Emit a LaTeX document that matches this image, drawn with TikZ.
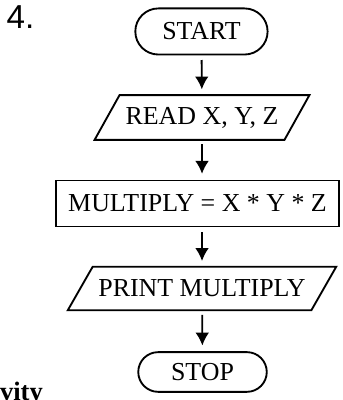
\documentclass[tikz,border=0pt]{standalone}
\usepackage{fontspec}
\setmainfont{Liberation Serif}
\newfontfamily\numfont{Liberation Sans}
\usetikzlibrary{arrows.meta,shapes.misc}
\begin{document}
\begin{tikzpicture}[>={Latex[length=3.4mm,width=3.6mm]},
    every node/.style={font=\fontsize{19.5}{21}\selectfont},
    term/.style={draw, line width=1.4pt, rounded rectangle, minimum height=1.22cm, inner sep=0pt},
    io/.style={rectangle, minimum height=1.17cm, inner sep=0pt},
    proc/.style={draw, line width=1.4pt, rectangle, minimum height=1.22cm, inner sep=0pt},
    flow/.style={->, line width=1.4pt, shorten <=0.12cm, shorten >=0.15cm}]
    \useasboundingbox (0,0) rectangle (9.075,10.583);
    % number and cut heading
    \node[anchor=base west, inner sep=0pt, font=\fontsize{25}{27}\selectfont\numfont] (num) at (0.17,9.84) {4.};
    \node[anchor=base east, inner sep=0pt, font=\fontsize{20}{22}\selectfont\bfseries] (act) at (1.14,0.0) {vity};
    % boxes
    \node[term, minimum width=3.5cm] (start) at (5.33,9.75) {START};
    \node[io, minimum width=5.01cm] (read) at (5.345,7.475) {READ X, Y, Z};
    \node[proc, minimum width=7.5cm] (mult) at (5.226,5.199) {MULTIPLY = X * Y * Z};
    \node[io, minimum width=6.43cm, minimum height=1.14cm] (print) at (5.345,2.95) {PRINT MULTIPLY};
    \node[term, minimum width=3.4cm, minimum height=1.05cm] (stop) at (5.358,0.741) {STOP};
    % slanted sides of the input/output boxes
    \foreach \n in {read,print}
      \draw[line width=1.4pt] ([xshift=0.33cm]\n.north west) -- ([xshift=0.33cm]\n.north east)
        -- ([xshift=-0.33cm]\n.south east) -- ([xshift=-0.33cm]\n.south west) -- cycle;
    % arrows
    \draw[flow] (start) -- (read);
    \draw[flow] (read.south) -- (read.south |- mult.north);
    \draw[flow] (mult.south -| read.south) -- (print.north);
    \draw[flow] (print) -- (stop);
  \end{tikzpicture}
\end{document}
